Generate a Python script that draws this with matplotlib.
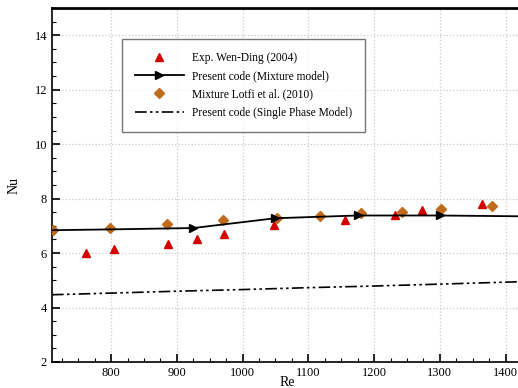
import matplotlib
matplotlib.use("Agg")
import matplotlib.pyplot as plt
from matplotlib.ticker import MultipleLocator

plt.rcParams['font.family'] = ['Liberation Serif', 'DejaVu Serif']

# Exp. Wen-Ding (2004)
exp_re = [762, 805, 886, 930, 971, 1048, 1156, 1232, 1273, 1364]
exp_nu = [6.01, 6.16, 6.32, 6.52, 6.70, 7.04, 7.22, 7.41, 7.59, 7.81]

# Present code (Mixture model)
mix_re = [710, 800, 925, 1050, 1175, 1300, 1425]
mix_nu = [6.84, 6.87, 6.92, 7.28, 7.38, 7.38, 7.35]

# Mixture Lotfi et al. (2010)
lotfi_re = [712, 798, 885, 970, 1053, 1118, 1180, 1242, 1302, 1379]
lotfi_nu = [6.83, 6.91, 7.07, 7.22, 7.28, 7.37, 7.47, 7.51, 7.63, 7.74]

# Present code (Single Phase Model)
sp_re = [710, 800, 900, 1000, 1100, 1200, 1300, 1425]
sp_nu = [4.47, 4.53, 4.60, 4.66, 4.73, 4.79, 4.86, 4.95]

fig = plt.figure(figsize=(5.18, 3.88), dpi=100)
ax = fig.add_axes([52/518, 26/388, 470/518, 354/388])

ax.grid(True, color='#c8c8c8', linestyle=':', linewidth=0.9)
ax.set_axisbelow(True)

ax.plot(exp_re, exp_nu, linestyle='none', marker='^', color='#d40000',
        markersize=6, label='Exp. Wen-Ding (2004)', zorder=3)
ax.plot(mix_re, mix_nu, color='black', linewidth=1.3, marker='>', markersize=6,
        markevery=[2, 3, 4, 5], label='Present code (Mixture model)', zorder=4)
ax.plot(lotfi_re, lotfi_nu, linestyle='none', marker='D', color='#c06a1c',
        markersize=5.5, label='Mixture Lotfi et al. (2010)', zorder=3)
ax.plot(sp_re, sp_nu, color='black', linewidth=1.2, dashes=(7, 2, 1.5, 2, 1.5, 2),
        label='Present code (Single Phase Model)', zorder=3)

ax.set_xlim(710, 1425)
ax.set_ylim(2, 15)
ax.xaxis.set_major_locator(MultipleLocator(100))
ax.xaxis.set_minor_locator(MultipleLocator(25))
ax.yaxis.set_major_locator(MultipleLocator(2))
ax.yaxis.set_minor_locator(MultipleLocator(0.5))
ax.tick_params(which='both', direction='in', labelsize=9, top=False, right=False)
ax.tick_params(which='major', length=6, width=1.2)
ax.tick_params(which='minor', length=3, width=0.8)

for s in ['left', 'bottom']:
    ax.spines[s].set_linewidth(1.2)
ax.spines['top'].set_linewidth(2)
ax.spines['right'].set_visible(False)

ax.set_xlabel('Re', fontsize=10, labelpad=-2)
ax.set_ylabel('Nu', fontsize=10, labelpad=10)

leg = ax.legend(loc='upper left', bbox_to_anchor=(0.149, 0.912), fontsize=8.3,
                handlelength=4.3, frameon=True, fancybox=False, edgecolor='#555555',
                borderpad=1.1, labelspacing=0.55, handletextpad=0.7, borderaxespad=0)
leg.get_frame().set_linewidth(1.0)

fig.savefig('out.png', dpi=100)
